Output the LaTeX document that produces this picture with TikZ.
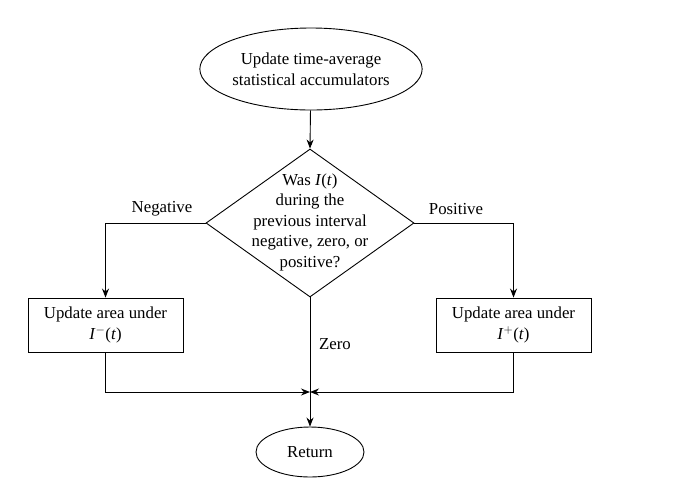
\documentclass[tikz,border=0pt]{standalone}
\usepackage{fontspec}
\setmainfont{Liberation Serif}
\usetikzlibrary{shapes.geometric,arrows.meta}
\begin{document}
\begin{tikzpicture}[x=1pt,y=-1pt,
  every node/.style={font=\fontsize{16.8}{20.5}\selectfont},
  term/.style={draw,ellipse,inner sep=0pt,line width=0.9pt},
  procbox/.style={draw,rectangle,minimum width=155pt,minimum height=54pt,inner sep=0pt,align=center,line width=0.9pt},
  decshape/.style={draw,diamond,minimum width=208pt,minimum height=148pt,inner sep=0pt,line width=0.9pt},
  flow/.style={line width=0.9pt,-{Stealth[length=9pt,width=7pt]}}]
\useasboundingbox (0,0) rectangle (676,488);
\node[term,minimum width=198pt,minimum height=82pt,align=center] (start) at (311,69) {Update time-average\\statistical accumulators};
\node[decshape] (dec) at (310,223) {};
\node[align=center] (dectext) at (310,222) {Was \textit{I}(\textit{t})\\during the\\previous interval\\negative, zero, or\\positive?};
\node[procbox] (neg) at (105.5,325) {Update area under\\\textit{I}$^{-}$(\textit{t})};
\node[procbox] (pos) at (513.5,325) {Update area under\\\textit{I}$^{+}$(\textit{t})};
\node[term,minimum width=108pt,minimum height=50pt] (ret) at (310,452) {Return};
\coordinate (merge) at (310,392);
\node (lneg) at (162,209) {Negative};
\node (lpos) at (456,209) {Positive};
\node (lzero) at (335,344) {Zero};
\draw[flow] (start) -- (dec.north);
\draw[flow] (dec.west) -| (neg.north);
\draw[flow] (dec.east) -| (pos.north);
\draw[flow] (dec.south) -- (ret.north);
\draw[flow] (neg.south) |- (merge);
\draw[flow] (pos.south) |- (merge);
\end{tikzpicture}
\end{document}
